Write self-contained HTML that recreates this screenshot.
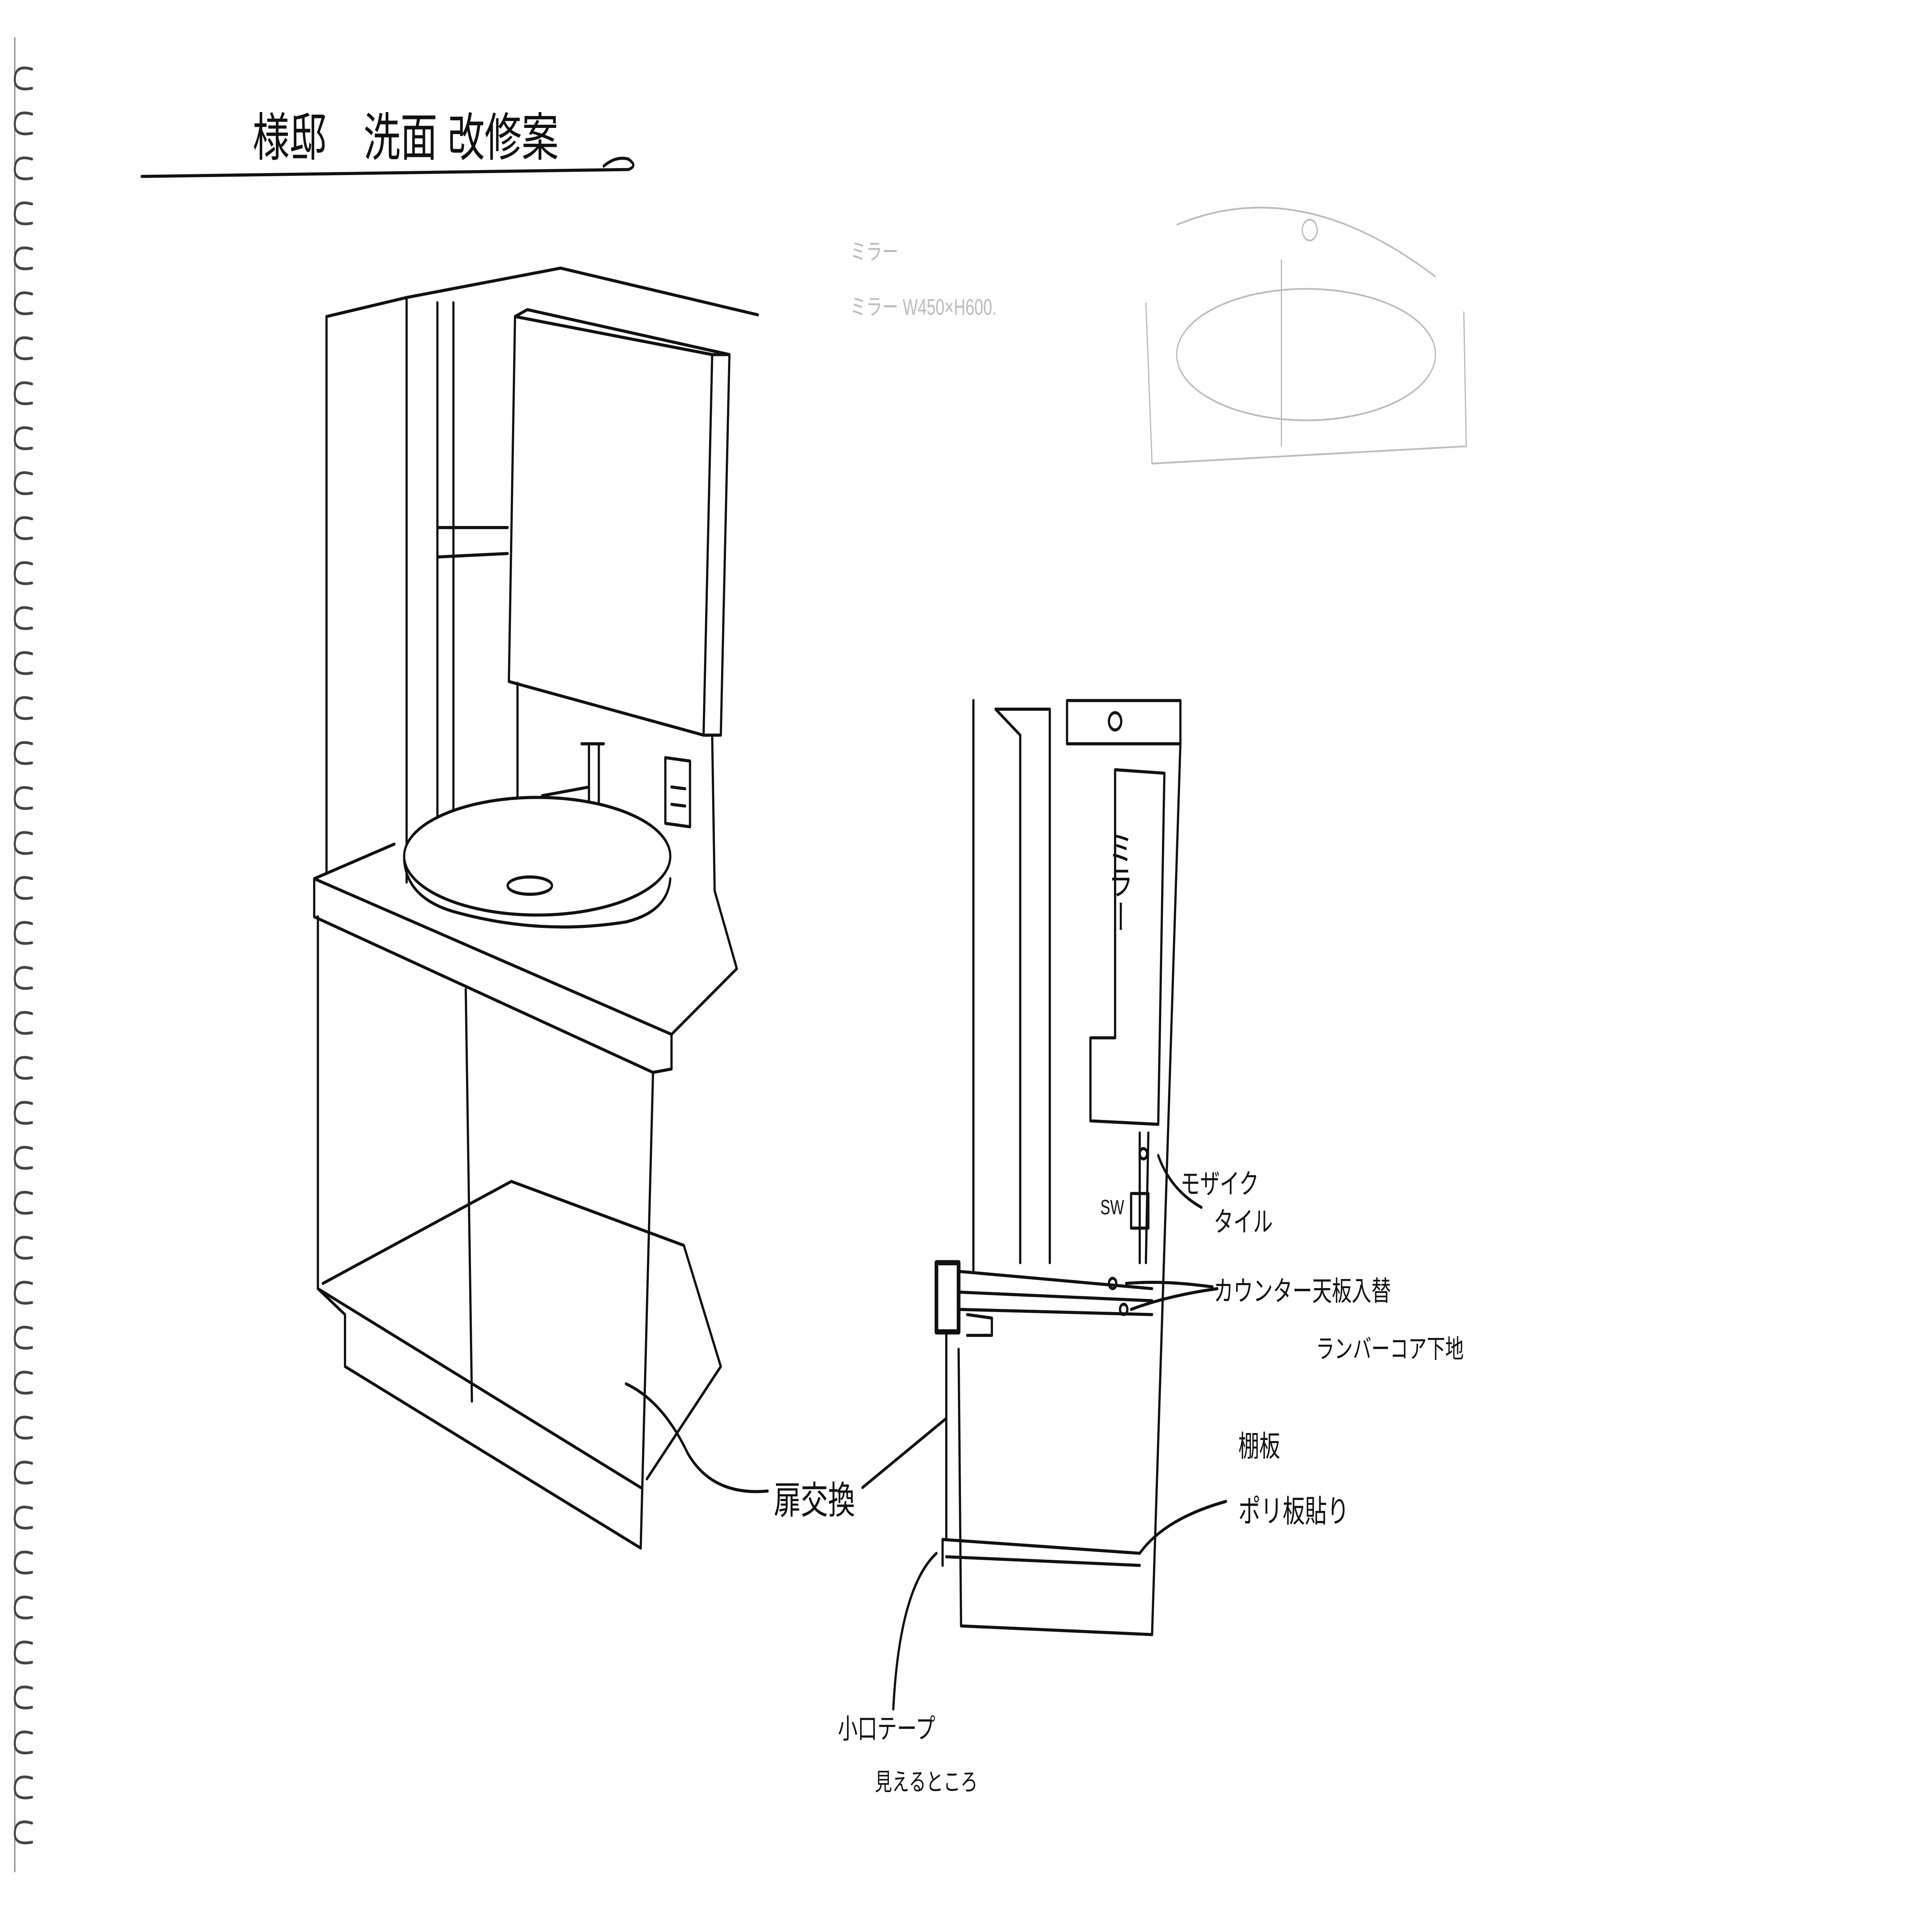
<!DOCTYPE html>
<html><head><meta charset="utf-8"><style>
html,body{margin:0;padding:0;background:#fff;width:100%;height:100%;overflow:hidden;}
svg{display:block;width:100vw;height:100vh;}
text{font-family:"Liberation Sans","Noto Sans CJK JP",sans-serif;fill:#111;}
</style></head><body>
<svg viewBox="0 0 1568 1110" preserveAspectRatio="none" xmlns="http://www.w3.org/2000/svg">
<rect width="1568" height="1110" fill="#fff"/>
<g fill="none" stroke="#444" stroke-width="1.6" stroke-linecap="round">
<path d="M12,22 v1060" stroke="#888" stroke-width="1"/>
<path d="M26,40 q-14,-3 -14,6 q0,7 14,5 M26,66 q-14,-3 -14,6 q0,7 14,5 M26,92 q-14,-3 -14,6 q0,7 14,5 M26,118 q-14,-3 -14,6 q0,7 14,5 M26,144 q-14,-3 -14,6 q0,7 14,5 M26,170 q-14,-3 -14,6 q0,7 14,5 M26,196 q-14,-3 -14,6 q0,7 14,5 M26,222 q-14,-3 -14,6 q0,7 14,5 M26,248 q-14,-3 -14,6 q0,7 14,5 M26,274 q-14,-3 -14,6 q0,7 14,5 M26,300 q-14,-3 -14,6 q0,7 14,5 M26,326 q-14,-3 -14,6 q0,7 14,5 M26,352 q-14,-3 -14,6 q0,7 14,5 M26,378 q-14,-3 -14,6 q0,7 14,5 M26,404 q-14,-3 -14,6 q0,7 14,5 M26,430 q-14,-3 -14,6 q0,7 14,5 M26,456 q-14,-3 -14,6 q0,7 14,5 M26,482 q-14,-3 -14,6 q0,7 14,5 M26,508 q-14,-3 -14,6 q0,7 14,5 M26,534 q-14,-3 -14,6 q0,7 14,5 M26,560 q-14,-3 -14,6 q0,7 14,5 M26,586 q-14,-3 -14,6 q0,7 14,5 M26,612 q-14,-3 -14,6 q0,7 14,5 M26,638 q-14,-3 -14,6 q0,7 14,5 M26,664 q-14,-3 -14,6 q0,7 14,5 M26,690 q-14,-3 -14,6 q0,7 14,5 M26,716 q-14,-3 -14,6 q0,7 14,5 M26,742 q-14,-3 -14,6 q0,7 14,5 M26,768 q-14,-3 -14,6 q0,7 14,5 M26,794 q-14,-3 -14,6 q0,7 14,5 M26,820 q-14,-3 -14,6 q0,7 14,5 M26,846 q-14,-3 -14,6 q0,7 14,5 M26,872 q-14,-3 -14,6 q0,7 14,5 M26,898 q-14,-3 -14,6 q0,7 14,5 M26,924 q-14,-3 -14,6 q0,7 14,5 M26,950 q-14,-3 -14,6 q0,7 14,5 M26,976 q-14,-3 -14,6 q0,7 14,5 M26,1002 q-14,-3 -14,6 q0,7 14,5 M26,1028 q-14,-3 -14,6 q0,7 14,5 M26,1054 q-14,-3 -14,6 q0,7 14,5"/>
</g>
<g fill="none" stroke="#111" stroke-width="1.8" stroke-linecap="round" stroke-linejoin="round">
<path d="M115,102 L510,98 q8,-2 0,-6 q-10,-2 -20,4"/>
<path d="M265,183 L265,505 M265,183 L330,172 L455,155 L615,182"/>
<path d="M330,172 L330,510 M355,175 L355,500 M368,175 L368,495"/>
<path d="M355,305 L412,305 M355,322 L412,320"/>
<path d="M418,183 L578,205 L571,425 L413,394 Z"/>
<path d="M418,183 L428,179 L592,205 L585,425 L571,425 M578,205 L592,205"/>
<path d="M420,395 L420,470 M578,425 L580,515"/>
<path d="M540,438 L560,440 L560,478 L540,476 Z M545,455 L556,456 M545,465 L556,466"/>
<path d="M478,430 L478,478 M486,430 L486,478 M472,430 L490,430 M440,460 L478,455"/>
<path d="M255,508 L320,488 M255,508 L545,598 L598,560 L580,515"/>
<path d="M255,508 L255,530 L530,620 L545,618 L545,598"/>
<ellipse cx="436" cy="495" rx="108" ry="34" fill="#fff"/>
<path d="M328,497 q2,22 40,30 q70,14 140,6 q34,-6 36,-25"/>
<ellipse cx="430" cy="512" rx="18" ry="5"/>
<path d="M258,530 L258,745 M530,620 L520,895 M258,745 L520,860"/>
<path d="M280,760 L280,790 L520,895 M258,745 L280,760"/>
<path d="M378,572 L383,810"/>
<path d="M262,742 L415,683 L555,720 L585,790 L525,855"/>
<path d="M508,800 q30,10 50,40 q20,25 65,22"/>
<path d="M790,405 L790,735 M808,410 L852,410 M808,410 L828,425 L828,730 M852,410 L852,730"/>
<path d="M866,405 L958,405 L958,430 L866,430 Z"/>
<circle cx="905" cy="417" r="5"/>
<path d="M958,430 L935,945"/>
<path d="M905,445 L945,447 L940,650 L885,648 L885,600 L905,600 Z"/>
<path d="M925,655 L925,730 M932,655 L930,730 M918,690 L932,690 L932,710 L918,710 Z"/>
<circle cx="928" cy="667" r="3"/>
<path d="M760,730 L778,730 L778,770 L760,770 Z" stroke-width="3"/>
<path d="M778,735 L935,745 M778,757 L935,760 M778,747 L935,752"/>
<path d="M785,760 L805,762 L805,772 L785,772"/>
<circle cx="903" cy="742" r="3"/><circle cx="912" cy="757" r="3"/>
<path d="M768,770 L768,890 M778,780 L780,940 M765,890 L925,898 M768,900 L925,905 M780,940 L935,945"/>
<path d="M765,890 L765,905"/>
<path d="M940,668 q10,20 35,30 M914,742 q30,-2 70,2 M918,757 q30,-8 70,-12"/>
<path d="M700,860 L768,820 M925,898 q20,-20 70,-30 M760,898 q-30,20 -35,90"/>
</g>
<g fill="none" stroke="#bbb" stroke-width="1">
<path d="M930,175 L935,268 L1190,258 L1188,180 M955,130 q100,-30 210,30"/>
<ellipse cx="1060" cy="205" rx="105" ry="38"/>
<circle cx="1063" cy="133" r="6"/>
<path d="M1040,150 L1040,258"/>
</g>
<text x="690" y="150" font-size="13" style="fill:#bbb">ミラー</text>
<text x="690" y="182" font-size="13" style="fill:#bbb">ミラー W450×H600.</text>
<text x="205" y="90" font-size="30">様邸　洗面 改修案</text>
<text x="908" y="480" font-size="20" writing-mode="tb">ミラー</text>
<text x="893" y="702" font-size="12">SW</text>
<text x="958" y="690" font-size="16">モザイク</text>
<text x="985" y="712" font-size="16">タイル</text>
<text x="985" y="752" font-size="16">カウンター天板入替</text>
<text x="1068" y="785" font-size="15">ランバーコア下地</text>
<text x="1005" y="842" font-size="17">棚板</text>
<text x="1005" y="880" font-size="18">ポリ板貼り</text>
<text x="628" y="875" font-size="22">扉交換</text>
<text x="680" y="1005" font-size="16">小口テープ</text>
<text x="710" y="1035" font-size="14">見えるところ</text>
</svg>
</body></html>
